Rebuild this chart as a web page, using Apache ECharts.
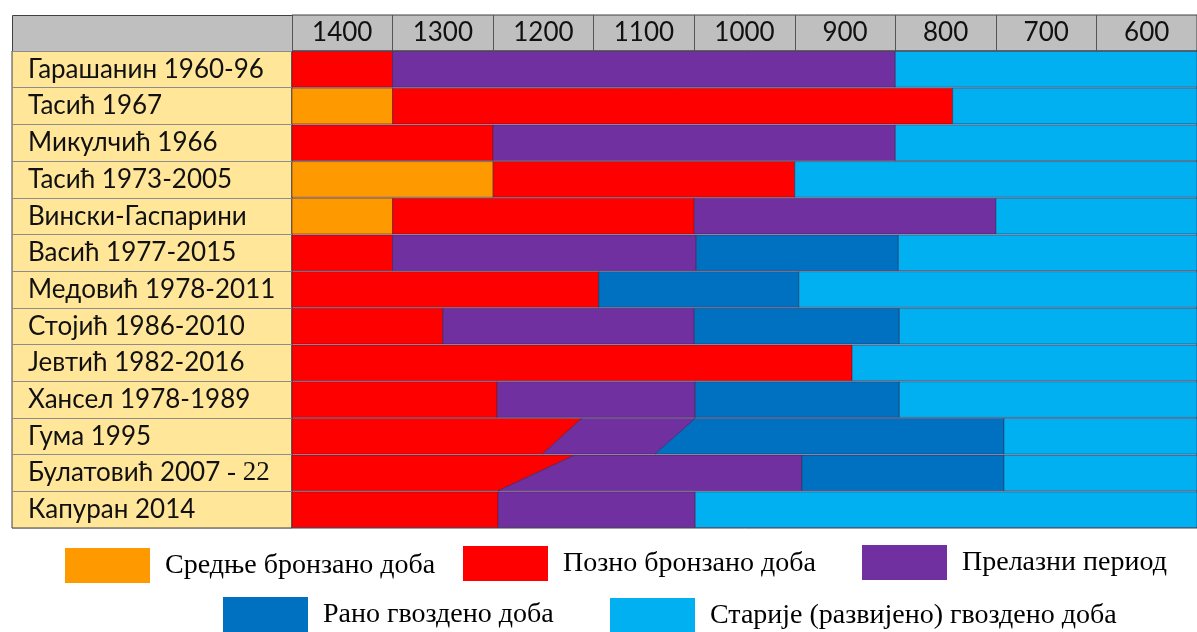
<!DOCTYPE html>
<html>
<head>
<meta charset="utf-8">
<script src="https://cdn.jsdelivr.net/npm/echarts@6/dist/echarts.min.js"></script>
<style>
html,body{margin:0;padding:0;background:#fff;}
#chart{width:1197px;height:632px;}
</style>
</head>
<body>
<div id="chart"></div>
<script>
// ---- data ----
const rows = ['Гарашанин 1960-96','Тасић 1967','Микулчић 1966','Тасић 1973-2005','Вински-Гаспарини',
  'Васић 1977-2015','Медовић 1978-2011','Стојић 1986-2010','Јевтић 1982-2016','Хансел 1978-1989',
  'Гума 1995','Булатовић 2007 - 22','Капуран 2014'];
const years = ['1400','1300','1200','1100','1000','900','800','700','600'];
const periods = ['Средње бронзано доба','Позно бронзано доба','Прелазни период','Рано гвоздено доба','Старије (развијено) гвоздено доба'];
const periodColors = ['#FF9900','#FF0000','#7030A0','#0070C0','#00B0F0'];
// segments: [row, fromTop, toTop] or [row, fromTop, toTop, fromBottom, toBottom] (years BC)
const middleBronze = [[1,1400,1300],[3,1400,1200],[4,1400,1300]];
const lateBronze = [[0,1400,1300],[1,1300,743],[2,1400,1200],[3,1200,900],[4,1300,1000],[5,1400,1300],
  [6,1400,1095],[7,1400,1250],[8,1400,843],[9,1400,1196],[10,1400,1112,1400,1151],[11,1400,1119,1400,1195],[12,1400,1195]];
const transitional = [[0,1300,800],[2,1200,800],[4,1000,700],[5,1300,998],[7,1250,1000],[9,1196,999],
  [10,1112,999,1151,1039],[11,1119,893,1195,893],[12,1195,999]];
const earlyIron = [[5,998,797],[6,1095,896],[7,1000,796],[9,999,796],[10,999,692,1039,692],[11,893,692]];
const developedIron = [[0,800,500],[1,743,500],[2,800,500],[3,900,500],[4,700,500],[5,797,500],[6,896,500],
  [7,796,500],[8,843,500],[9,796,500],[10,692,500],[11,692,500],[12,999,500]];
const segmentSets = [middleBronze, lateBronze, transitional, earlyIron, developedIron];

// ---- chart ----
const chart = echarts.init(document.getElementById('chart'));
const rowFont = 'Lato, "Open Sans", sans-serif';
const serif = '"Liberation Serif", "DejaVu Serif", serif';

function norm(seg){ return seg.length === 5 ? seg.slice() : [seg[0], seg[1], seg[2], seg[1], seg[2]]; }

function renderSeg(params, api){
  const r = api.value(0);
  const h = api.size([0, 1])[1];
  const yc = api.coord([api.value(1), r])[1];
  const y0 = yc - h/2 + 0.5, y1 = yc + h/2 - 0.5;
  const xt0 = api.coord([api.value(1), r])[0];
  const xt1 = api.coord([api.value(2), r])[0];
  const xb0 = api.coord([api.value(3), r])[0];
  const xb1 = api.coord([api.value(4), r])[0];
  return {
    type: 'polygon',
    shape: {points: [[xt0,y0],[xt1,y0],[xb1,y1],[xb0,y1]]},
    style: {fill: api.visual('color'), stroke: 'rgba(40,25,60,0.55)', lineWidth: 0.8}
  };
}

const series = periods.map((name, i) => ({
  name: name,
  type: 'custom',
  xAxisIndex: 2, yAxisIndex: 2,
  itemStyle: {color: periodColors[i]},
  encode: {x: [1,2,3,4], y: 0},
  renderItem: renderSeg,
  data: segmentSets[i].map(norm)
}));

const legendPos = [[65,548],[463,546],[862,545],[223,597],[610,598]];
const legends = periods.map((name, i) => ({
  data: [name],
  left: legendPos[i][0], top: legendPos[i][1],
  padding: 0, icon: 'rect', itemWidth: 85, itemHeight: 35,
  selectedMode: false,
  textStyle: {fontFamily: serif, fontSize: 28, color: '#000', padding: [0,0,0,10]}
}));

const option = {
  backgroundColor: '#ffffff',
  animation: false,
  graphic: [{
    type: 'rect', left: 12, top: 15, shape: {width: 280, height: 36},
    style: {fill: '#BFBFBF', stroke: '#404040', lineWidth: 1}, z: 0
  }],
  grid: [
    {left: 12, top: 51, width: 280, height: 477, show: true, backgroundColor: '#FFE699', borderColor: '#404040', borderWidth: 1},
    {left: 292, right: 0, top: 15, height: 36, show: true, backgroundColor: '#BFBFBF', borderColor: '#404040', borderWidth: 1},
    {left: 292, right: 0, top: 51, height: 477, show: true, backgroundColor: '#D6CCDD', borderColor: '#404040', borderWidth: 1}
  ],
  xAxis: [
    {gridIndex: 0, type: 'value', show: false},
    {gridIndex: 1, type: 'category', data: years, position: 'top', boundaryGap: true,
      axisLine: {show: false}, axisTick: {show: false},
      axisLabel: {inside: true, margin: 5, interval: 0, fontFamily: rowFont, fontSize: 26, color: '#111'},
      splitLine: {show: true, interval: 0, lineStyle: {color: '#555', width: 1}}},
    {gridIndex: 2, type: 'value', min: 500, max: 1400, inverse: true, show: false}
  ],
  yAxis: [
    {gridIndex: 0, type: 'category', data: rows, inverse: true,
      axisLine: {show: false}, axisTick: {show: false},
      axisLabel: {inside: true, margin: 16, interval: 0, fontFamily: rowFont, fontSize: 26, color: '#111',
        formatter: v => v.replace(/ - (\d+)$/, '{s| - $1}'),
        rich: {s: {fontFamily: serif, fontSize: 27, color: '#111'}}},
      splitLine: {show: true, interval: 0, lineStyle: {color: '#8c8c8c', width: 1}}},
    {gridIndex: 1, type: 'value', show: false},
    {gridIndex: 2, type: 'category', data: rows, inverse: true, show: false}
  ],
  legend: legends,
  series: series
};
chart.setOption(option);
</script>
</body>
</html>
